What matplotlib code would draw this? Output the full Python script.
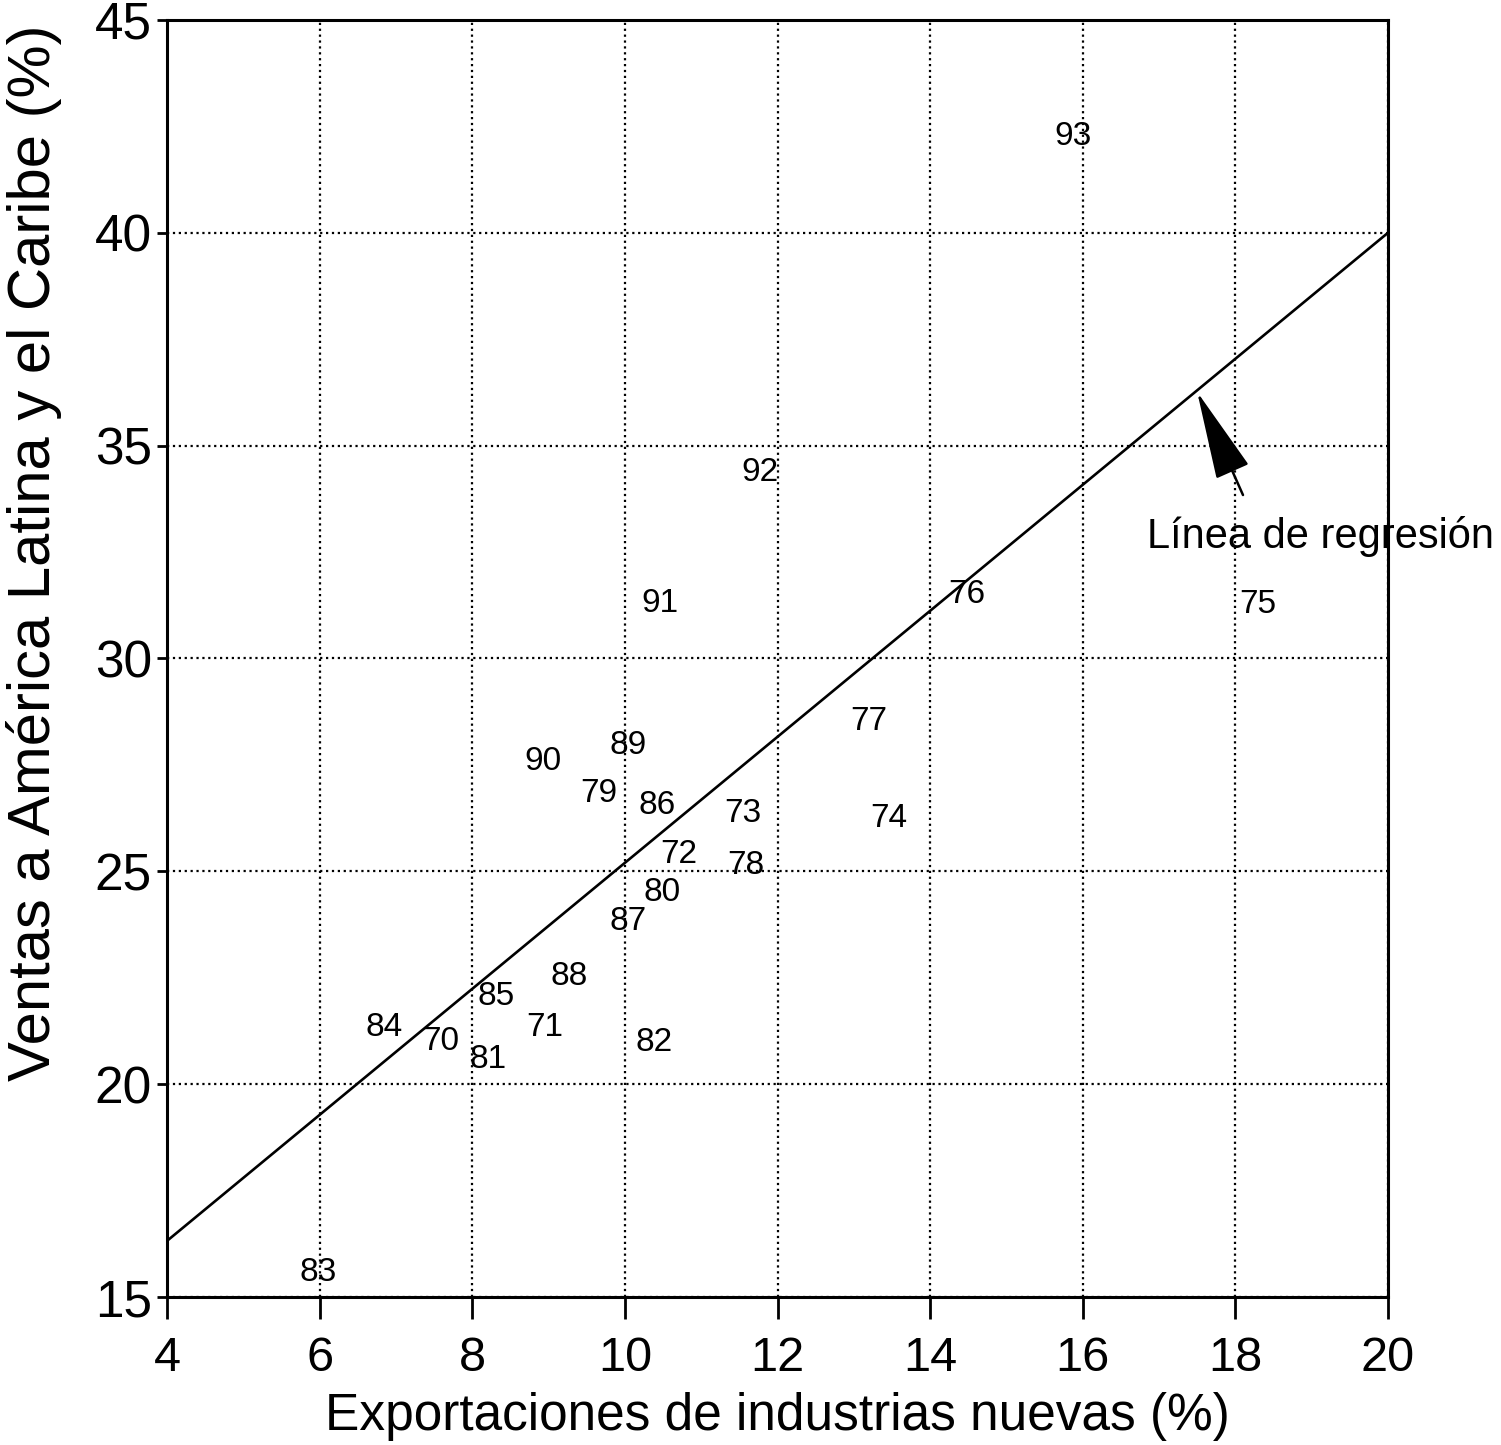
import matplotlib.pyplot as plt

# Años (etiquetas de los puntos) y sus coordenadas
years = ['70', '71', '72', '73', '74', '75', '76', '77', '78', '79',
         '80', '81', '82', '83', '84', '85', '86', '87', '88', '89',
         '90', '91', '92', '93']
x_exp = [7.59, 8.95, 10.70, 11.55, 13.46, 18.29, 14.48, 13.19, 11.58, 9.66,
         10.49, 8.21, 10.38, 5.98, 6.84, 8.31, 10.42, 10.04, 9.27, 10.04,
         8.93, 10.46, 11.77, 15.87]
y_ventas = [21.00, 21.32, 25.39, 26.37, 26.25, 31.26, 31.50, 28.51, 25.13, 26.84,
            24.50, 20.59, 20.97, 15.57, 21.32, 22.05, 26.54, 23.83, 22.52, 27.95,
            27.57, 31.28, 34.36, 42.27]

# Línea de regresión
reg_intercept = 10.4
reg_slope = 1.48
reg_x = [4, 20]

xticks = [4, 6, 8, 10, 12, 14, 16, 18, 20]
yticks = [15, 20, 25, 30, 35, 40, 45]

plt.rcParams['font.family'] = ['Liberation Sans', 'DejaVu Sans']

fig = plt.figure(figsize=(15.01, 14.45), dpi=100)
ax = fig.add_axes([0.1113, 0.1024, 0.8134, 0.8838])

for yr, xv, yv in zip(years, x_exp, y_ventas):
    ax.text(xv, yv, yr, fontsize=24, ha='center', va='center')

reg_y = [reg_intercept + reg_slope * v for v in reg_x]
ax.plot(reg_x, reg_y, color='black', linewidth=1.9)

# Flecha y texto de la línea de regresión
ax.annotate('', xy=(17.50, 36.26), xytext=(18.10, 33.84),
            arrowprops=dict(arrowstyle='-|>,head_length=1.9,head_width=0.38',
                            mutation_scale=30, color='black', lw=1.8,
                            shrinkA=0, shrinkB=0))
ax.text(16.84, 32.86, 'Línea de regresión', fontsize=30, ha='left', va='center',
        clip_on=False)

ax.set_xlim(4, 20)
ax.set_ylim(15, 45)
ax.set_xticks(xticks)
ax.set_yticks(yticks)
ax.tick_params(axis='x', direction='out', length=16, width=2, labelsize=35, pad=12)
ax.tick_params(axis='y', direction='out', length=7, width=2, labelsize=37, pad=4)
ax.grid(True, color='black', linestyle=':', linewidth=1.6)
for sp in ax.spines.values():
    sp.set_linewidth(2.2)

ax.set_xlabel('Exportaciones de industrias nuevas (%)', fontsize=37, labelpad=8)
ax.set_ylabel('Ventas a América Latina y el Caribe (%)', fontsize=43)
ax.yaxis.set_label_coords(-0.086, 0.583)

fig.savefig('out.png', dpi=100)
